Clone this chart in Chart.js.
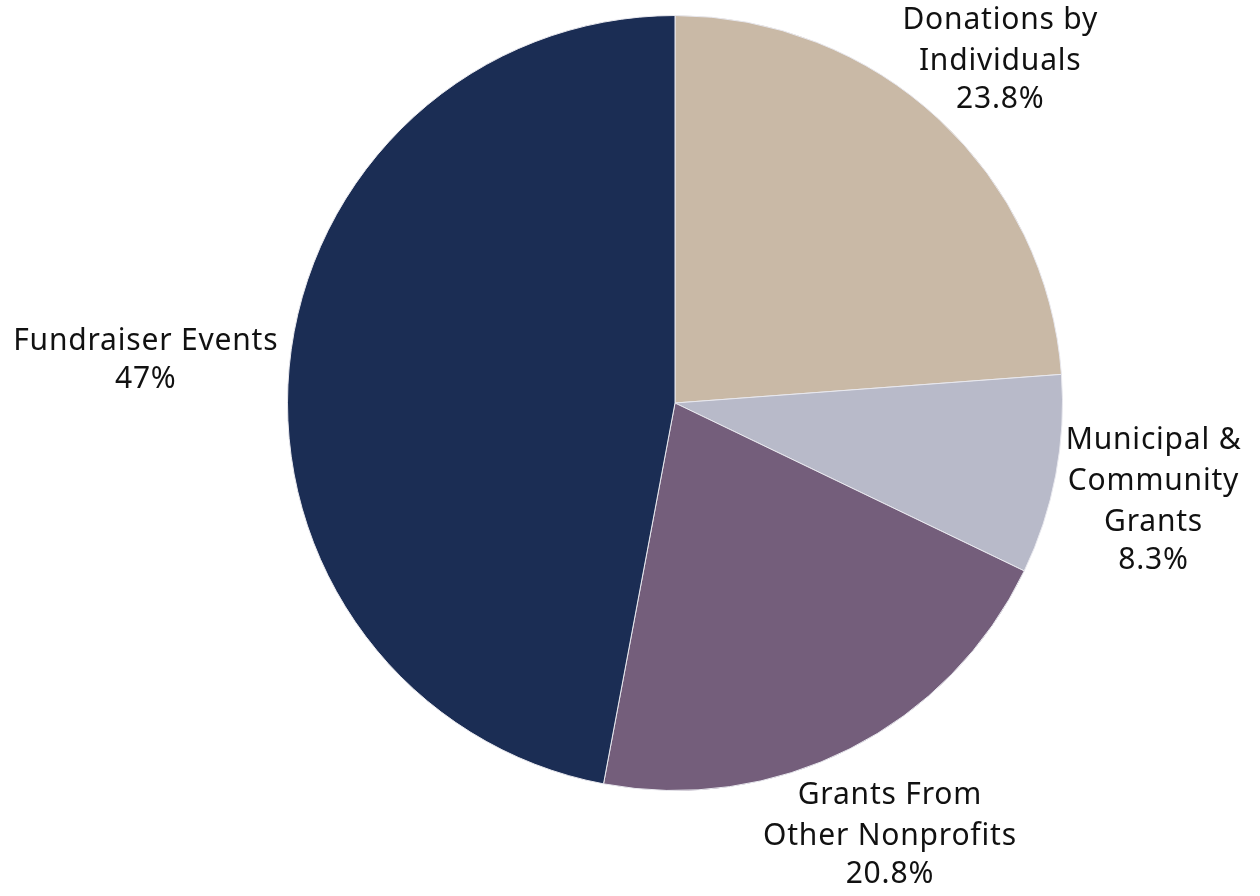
<!DOCTYPE html>
<html>
<head>
<meta charset="utf-8">
<script src="https://cdn.jsdelivr.net/npm/chart.js@4.4.1/dist/chart.umd.min.js"></script>
<style>
  html, body { margin: 0; padding: 0; background: #fff; }
  #wrap { width: 1260px; height: 896px; position: relative; }
</style>
</head>
<body>
<div id="wrap"><canvas id="fundingPie"></canvas></div>
<script>
const labels = [
  ['Donations by', 'Individuals'],
  ['Municipal &', 'Community', 'Grants'],
  ['Grants From', 'Other Nonprofits'],
  ['Fundraiser Events']
];
const shares = [23.8, 8.3, 20.8, 47];
const shareText = ['23.8%', '8.3%', '20.8%', '47%'];
const sliceColors = ['#C9B9A6', '#B8BAC9', '#745E7B', '#1B2D54'];

const FONT = '30px "Noto Sans", sans-serif';
const LINE_H = 41;   // between label lines
const PCT_H = 38;    // label line -> percentage

// draws each label block outside its slice, along the slice's mid angle
const outsideLabels = {
  id: 'outsideLabels',
  afterDatasetsDraw(chart) {
    const ctx = chart.ctx;
    const meta = chart.getDatasetMeta(0);
    ctx.save();
    ctx.font = FONT;
    ctx.letterSpacing = '0.8px';
    ctx.fillStyle = '#111';
    ctx.textAlign = 'center';
    ctx.textBaseline = 'middle';
    meta.data.forEach((arc, i) => {
      const p = arc.getProps(['x', 'y', 'startAngle', 'endAngle', 'outerRadius'], true);
      const mid = (p.startAngle + p.endAngle) / 2;
      const lines = labels[i].concat([shareText[i]]);
      const offs = [0];
      for (let j = 1; j < lines.length; j++) {
        offs.push(offs[j - 1] + (j === lines.length - 1 ? PCT_H : LINE_H));
      }
      const w = Math.max(...lines.map(l => ctx.measureText(l).width));
      const h = offs[offs.length - 1] + 34;
      const cos = Math.cos(mid), sin = Math.sin(mid);
      const ext = Math.sqrt(Math.pow(cos * w / 2, 2) + Math.pow(sin * h / 2, 2));
      const d = p.outerRadius + 12 + ext;
      const cx = p.x + cos * d;
      const cy = p.y + sin * d + 7;
      const top = cy - offs[offs.length - 1] / 2;
      lines.forEach((l, j) => ctx.fillText(l, cx, top + offs[j]));
    });
    ctx.restore();
  }
};

new Chart(document.getElementById('fundingPie'), {
  type: 'pie',
  data: {
    labels: labels.map(l => l.join(' ')),
    datasets: [{
      data: shares,
      backgroundColor: sliceColors,
      borderColor: '#e8e8ee',
      borderWidth: 1
    }]
  },
  options: {
    responsive: true,
    maintainAspectRatio: false,
    animation: false,
    layout: { padding: { top: 15, bottom: 105, left: 287, right: 197 } },
    plugins: { legend: { display: false }, tooltip: { enabled: false } }
  },
  plugins: [outsideLabels]
});
</script>
</body>
</html>
